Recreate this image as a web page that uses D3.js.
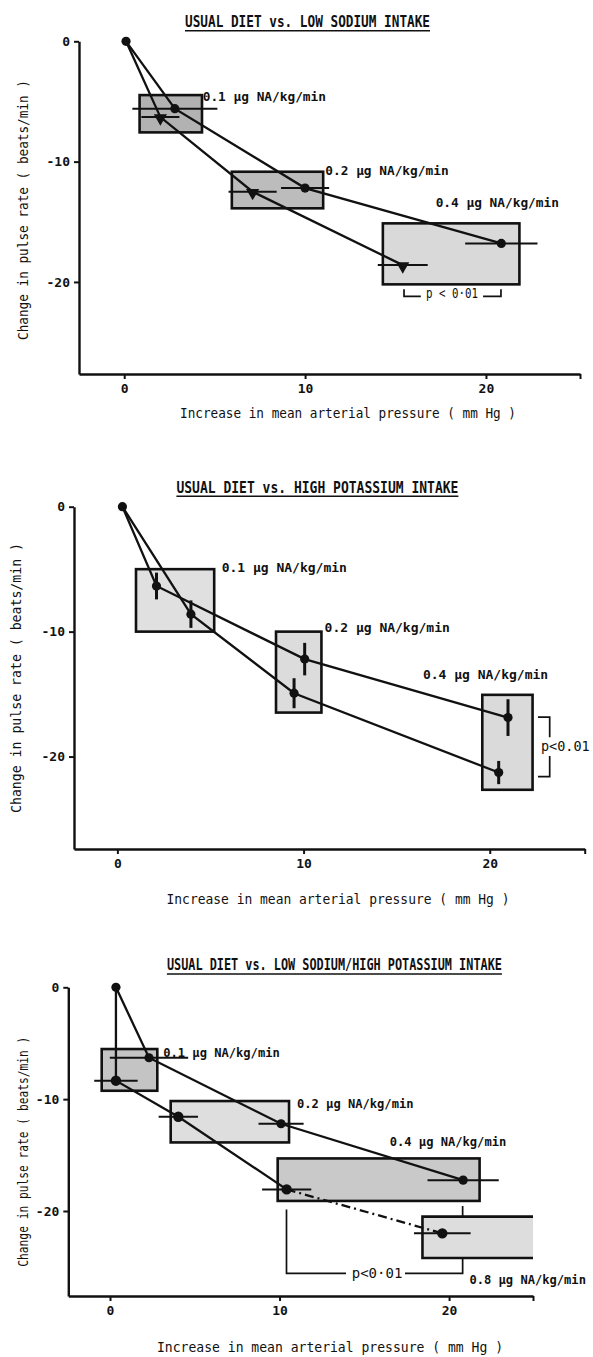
<!DOCTYPE html>
<html>
<head>
<meta charset="utf-8">
<script src="https://cdn.jsdelivr.net/npm/d3@7"></script>
<style>
body { margin: 0; background: #fff; }
text { font-family: "DejaVu Sans Mono", monospace; fill: #111; }
</style>
</head>
<body>
<div id="chart"></div>
<script>
// ticks shared by the three panels
var xTicks = [0, 10, 20];
var yTicks = [0, -10, -20];
var doseLabels = ["0.1 µg NA/kg/min", "0.2 µg NA/kg/min", "0.4 µg NA/kg/min", "0.8 µg NA/kg/min"];
var yTitle = "Change in pulse rate ( beats/min )";
var xTitle = "Increase in mean arterial pressure ( mm Hg )";

// panel 1 : usual diet vs low sodium
var p1Title = "USUAL DIET vs. LOW SODIUM INTAKE";
var p1UpperX = [0.1, 2.8, 10.0, 20.85];
var p1UpperY = [0, -5.6, -12.2, -16.8];
var p1UpperErr = [0, 2.35, 1.33, 2.0];
var p1LowerX = [0.1, 2.0, 7.1, 15.4];
var p1LowerY = [0, -6.3, -12.5, -18.6];
var p1LowerErr = [0, 1.05, 1.33, 1.38];
var p1Boxes = [[0.85, 4.3, -4.47, -7.57], [5.95, 11.0, -10.84, -13.88], [14.3, 21.85, -15.13, -20.2]];
var p1DoseAt = [[4.34, -4.6], [11.12, -10.7], [17.22, -13.38]];

// panel 2 : usual diet vs high potassium
var p2Title = "USUAL DIET vs. HIGH POTASSIUM INTAKE";
var p2UpperX = [0.27, 2.1, 10.06, 20.98];
var p2UpperY = [0, -6.35, -12.2, -16.88];
var p2UpperErr = [0, 1.07, 1.3, 1.47];
var p2LowerX = [0.27, 3.95, 9.49, 20.48];
var p2LowerY = [0, -8.6, -14.93, -21.28];
var p2LowerErr = [0, 1.1, 1.2, 0.93];
var p2Boxes = [[1.0, 5.2, -5.0, -10.0], [8.52, 10.96, -10.0, -16.48], [19.6, 22.3, -15.06, -22.66]];
var p2DoseAt = [[5.6, -4.88], [11.13, -9.68], [16.41, -13.46]];

// panel 3 : usual diet vs low sodium / high potassium
var p3Title = "USUAL DIET vs. LOW SODIUM/HIGH POTASSIUM INTAKE";
var p3UpperX = [0.35, 2.3, 10.09, 20.83];
var p3UpperY = [0, -6.3, -12.2, -17.24];
var p3UpperErr = [0, 2.31, 1.33, 2.1];
var p3LowerX = [0.35, 0.35, 4.03, 10.42, 19.6];
var p3LowerY = [0, -8.35, -11.57, -18.07, -22.0];
var p3LowerErr = [0, 1.28, 1.16, 1.45, 1.67];
var p3Boxes = [[-0.49, 2.79, -5.52, -9.25], [3.58, 10.56, -10.17, -13.87], [9.89, 21.8, -15.3, -19.1], [18.43, 24.95, -20.5, -24.2]];
var p3DoseAt = [[3.14, -5.85], [11.03, -10.38], [16.5, -13.81], [21.2, -26.18]];

var svg = d3.select("#chart").append("svg")
    .attr("width", 593)
    .attr("height", 1357);

function pts(xs, ys, es) {
    return xs.map(function (d, i) { return { x: d, y: ys[i], e: es[i] }; });
}

var panels = [
    { title: p1Title, upper: pts(p1UpperX, p1UpperY, p1UpperErr), lower: pts(p1LowerX, p1LowerY, p1LowerErr),
      boxes: p1Boxes, doseAt: p1DoseAt, errDir: "h", lowerMark: "tri", doseSize: 12.8,
      xDomain: [-2.5, 25.2], xRange: [79, 580], yDomain: [0, -27.65], yRange: [41.3, 374],
      fills: ["#b2b2b2", "#bcbcbc", "#d9d9d9"],
      titleAt: [307.5, 21.7, 245], xTitleAt: [348, 413, 336], yTitleAt: [23, 210, 260] },
    { title: p2Title, upper: pts(p2UpperX, p2UpperY, p2UpperErr), lower: pts(p2LowerX, p2LowerY, p2LowerErr),
      boxes: p2Boxes, doseAt: p2DoseAt, errDir: "v", lowerMark: "dot", doseSize: 13,
      xDomain: [-2.33, 25.1], xRange: [74, 584.7], yDomain: [0, -27.4], yRange: [506.7, 849],
      fills: ["#e0e0e0", "#dcdcdc", "#dadada"],
      titleAt: [317.4, 487.3, 282], xTitleAt: [338, 899.3, 343], yTitleAt: [16, 678, 270] },
    { title: p3Title, upper: pts(p3UpperX, p3UpperY, p3UpperErr), lower: pts(p3LowerX, p3LowerY, p3LowerErr),
      boxes: p3Boxes, doseAt: p3DoseAt, errDir: "h", lowerMark: "big", dashLast: true, doseSize: 12.1,
      xDomain: [-2.46, 24.95], xRange: [68.3, 533], yDomain: [0, -27.6], yRange: [987.3, 1296],
      fills: ["#c4c4c4", "#dedede", "#c9c9c9", "#dddddd"],
      titleAt: [334.4, 965, 335], xTitleAt: [330, 1347, 346], yTitleAt: [22.7, 1151.7, 230] }
];

function drawPanel(p, idx) {
    var x = d3.scaleLinear().domain(p.xDomain).range(p.xRange);
    var y = d3.scaleLinear().domain(p.yDomain).range(p.yRange);
    var g = svg.append("g");

    // p value bracket (drawn under the boxes in panel 3)
    var br = g.append("g").attr("fill", "none").attr("stroke", "#111").attr("stroke-width", 1.7);
    if (idx == 0) {
        br.append("path").attr("d", "M" + x(15.47) + "," + y(-20.6) + "V" + y(-21.2) + "H" + x(16.4)
            + "M" + x(19.84) + "," + y(-21.2) + "H" + x(20.83) + "V" + y(-20.6));
        g.append("text").attr("x", x(18.12)).attr("y", y(-20.92)).attr("dy", "0.35em")
            .attr("text-anchor", "middle").attr("font-size", 14).attr("textLength", 52)
            .attr("lengthAdjust", "spacingAndGlyphs").text("p < 0·01");
    } else if (idx == 1) {
        br.append("path").attr("d", "M" + x(22.59) + "," + y(-16.85) + "H" + x(23.22) + "V" + y(-18.45)
            + "M" + x(23.22) + "," + y(-19.95) + "V" + y(-21.6) + "H" + x(22.59));
        g.append("text").attr("x", x(22.75)).attr("y", y(-19.2)).attr("dy", "0.35em")
            .attr("font-size", 13.5).text("p<0.01");
    } else {
        br.append("path").attr("d", "M" + x(10.41) + "," + y(-19.86) + "V" + y(-25.58) + "H" + x(13.92)
            + "M" + x(17.4) + "," + y(-25.58) + "H" + x(20.8) + "V" + y(-19.56));
        g.append("text").attr("x", x(15.75)).attr("y", y(-25.58)).attr("dy", "0.35em")
            .attr("text-anchor", "middle").attr("font-size", 14).text("p<0·01");
    }

    // dose boxes
    g.selectAll("rect.box").data(p.boxes).enter().append("rect")
        .attr("class", "box")
        .attr("x", function (d) { return x(d[0]); })
        .attr("y", function (d) { return y(d[2]); })
        .attr("width", function (d) { return x(d[1]) - x(d[0]); })
        .attr("height", function (d) { return y(d[3]) - y(d[2]); })
        .style("fill", function (d, i) { return p.fills[i]; })
        .style("stroke", function (d) { return d[1] >= p.xDomain[1] - 0.01 ? "none" : "#111"; })
        .style("stroke-width", 2.6);
    // open ended box: only three sides
    p.boxes.filter(function (d) { return d[1] >= p.xDomain[1] - 0.01; }).forEach(function (d) {
        g.append("path")
            .attr("d", "M" + x(d[1]) + "," + y(d[2]) + "H" + x(d[0]) + "V" + y(d[3]) + "H" + x(d[1]))
            .attr("fill", "none").attr("stroke", "#111").attr("stroke-width", 2.6);
    });

    var line = d3.line().x(function (d) { return x(d.x); }).y(function (d) { return y(d.y); });
    g.append("path").datum(p.upper).attr("d", line)
        .attr("fill", "none").attr("stroke", "#111").attr("stroke-width", 2.3);
    var lowerSolid = p.dashLast ? p.lower.slice(0, p.lower.length - 1) : p.lower;
    g.append("path").datum(lowerSolid).attr("d", line)
        .attr("fill", "none").attr("stroke", "#111").attr("stroke-width", 2.3);
    if (p.dashLast) {
        g.append("path").datum(p.lower.slice(p.lower.length - 2)).attr("d", line)
            .attr("fill", "none").attr("stroke", "#111").attr("stroke-width", 2.3)
            .attr("stroke-dasharray", "9,4,2,4");
    }

    // error bars
    var all = p.upper.slice(1).concat(p.lower.slice(1));
    g.selectAll("line.err").data(all).enter().append("line")
        .attr("class", "err")
        .attr("x1", function (d) { return p.errDir == "h" ? x(d.x - d.e) : x(d.x); })
        .attr("x2", function (d) { return p.errDir == "h" ? x(d.x + d.e) : x(d.x); })
        .attr("y1", function (d) { return p.errDir == "h" ? y(d.y) : y(d.y + d.e); })
        .attr("y2", function (d) { return p.errDir == "h" ? y(d.y) : y(d.y - d.e); })
        .attr("stroke", "#111")
        .attr("stroke-width", p.errDir == "h" ? 2 : 3);

    // markers
    g.selectAll("circle.up").data(p.upper).enter().append("circle")
        .attr("class", "up")
        .attr("cx", function (d) { return x(d.x); })
        .attr("cy", function (d) { return y(d.y); })
        .attr("r", 4.6)
        .style("fill", "#111");
    var lowerPts = p.lower.slice(1);
    if (p.lowerMark == "tri") {
        g.selectAll("path.tri").data(lowerPts).enter().append("path")
            .attr("class", "tri")
            .attr("d", d3.symbol().type(d3.symbolTriangle).size(75))
            .attr("transform", function (d) { return "translate(" + x(d.x) + "," + (y(d.y) + 1) + ") rotate(180)"; })
            .style("fill", "#111");
    } else {
        g.selectAll("circle.low").data(lowerPts).enter().append("circle")
            .attr("class", "low")
            .attr("cx", function (d) { return x(d.x); })
            .attr("cy", function (d) { return y(d.y); })
            .attr("r", p.lowerMark == "big" ? 5.2 : 4.6)
            .style("fill", "#111");
    }

    // axes
    var xAxis = d3.axisBottom(x)
        .tickValues(xTicks.concat([p.xDomain[1]]))
        .tickSize(5).tickSizeOuter(0).tickPadding(5)
        .tickFormat(function (d) { return d == p.xDomain[1] ? "" : String(d); });
    var yAxis = d3.axisLeft(y)
        .tickValues(yTicks)
        .tickSize(5).tickSizeOuter(0).tickPadding(4)
        .tickFormat(function (d) { return String(d); });
    var gx = g.append("g").attr("transform", "translate(0," + p.yRange[1] + ")").call(xAxis);
    var gy = g.append("g").attr("transform", "translate(" + p.xRange[0] + ",0)").call(yAxis);
    [gx, gy].forEach(function (a) {
        a.select(".domain").attr("stroke", "#111").attr("stroke-width", 2.4);
        a.selectAll(".tick line").attr("stroke", "#111").attr("stroke-width", 2);
        a.selectAll(".tick text").attr("font-family", "DejaVu Sans Mono, monospace")
            .attr("font-size", 13).attr("font-weight", "bold").attr("fill", "#111");
    });

    // dose labels
    g.selectAll("text.dose").data(p.doseAt).enter().append("text")
        .attr("class", "dose")
        .attr("x", function (d) { return x(d[0]); })
        .attr("y", function (d) { return y(d[1]); })
        .attr("dy", "0.35em")
        .attr("font-size", p.doseSize)
        .attr("font-weight", "bold")
        .text(function (d, i) { return doseLabels[i]; });

    // titles
    g.append("text").attr("x", p.titleAt[0]).attr("y", p.titleAt[1]).attr("dy", "0.35em")
        .attr("text-anchor", "middle").attr("font-size", 15).attr("font-weight", "bold")
        .attr("textLength", p.titleAt[2]).attr("lengthAdjust", "spacingAndGlyphs")
        .text(p.title);
    g.append("line")
        .attr("x1", p.titleAt[0] - p.titleAt[2] / 2).attr("x2", p.titleAt[0] + p.titleAt[2] / 2)
        .attr("y1", p.titleAt[1] + 9).attr("y2", p.titleAt[1] + 9)
        .attr("stroke", "#111").attr("stroke-width", 1.6);
    g.append("text").attr("x", p.xTitleAt[0]).attr("y", p.xTitleAt[1]).attr("dy", "0.35em")
        .attr("text-anchor", "middle").attr("font-size", 14)
        .attr("textLength", p.xTitleAt[2]).attr("lengthAdjust", "spacingAndGlyphs")
        .text(xTitle);
    g.append("text")
        .attr("transform", "translate(" + p.yTitleAt[0] + "," + p.yTitleAt[1] + ") rotate(-90)")
        .attr("dy", "0.35em")
        .attr("text-anchor", "middle").attr("font-size", 14)
        .attr("textLength", p.yTitleAt[2]).attr("lengthAdjust", "spacingAndGlyphs")
        .text(yTitle);
}

panels.forEach(drawPanel);
</script>
</body>
</html>
